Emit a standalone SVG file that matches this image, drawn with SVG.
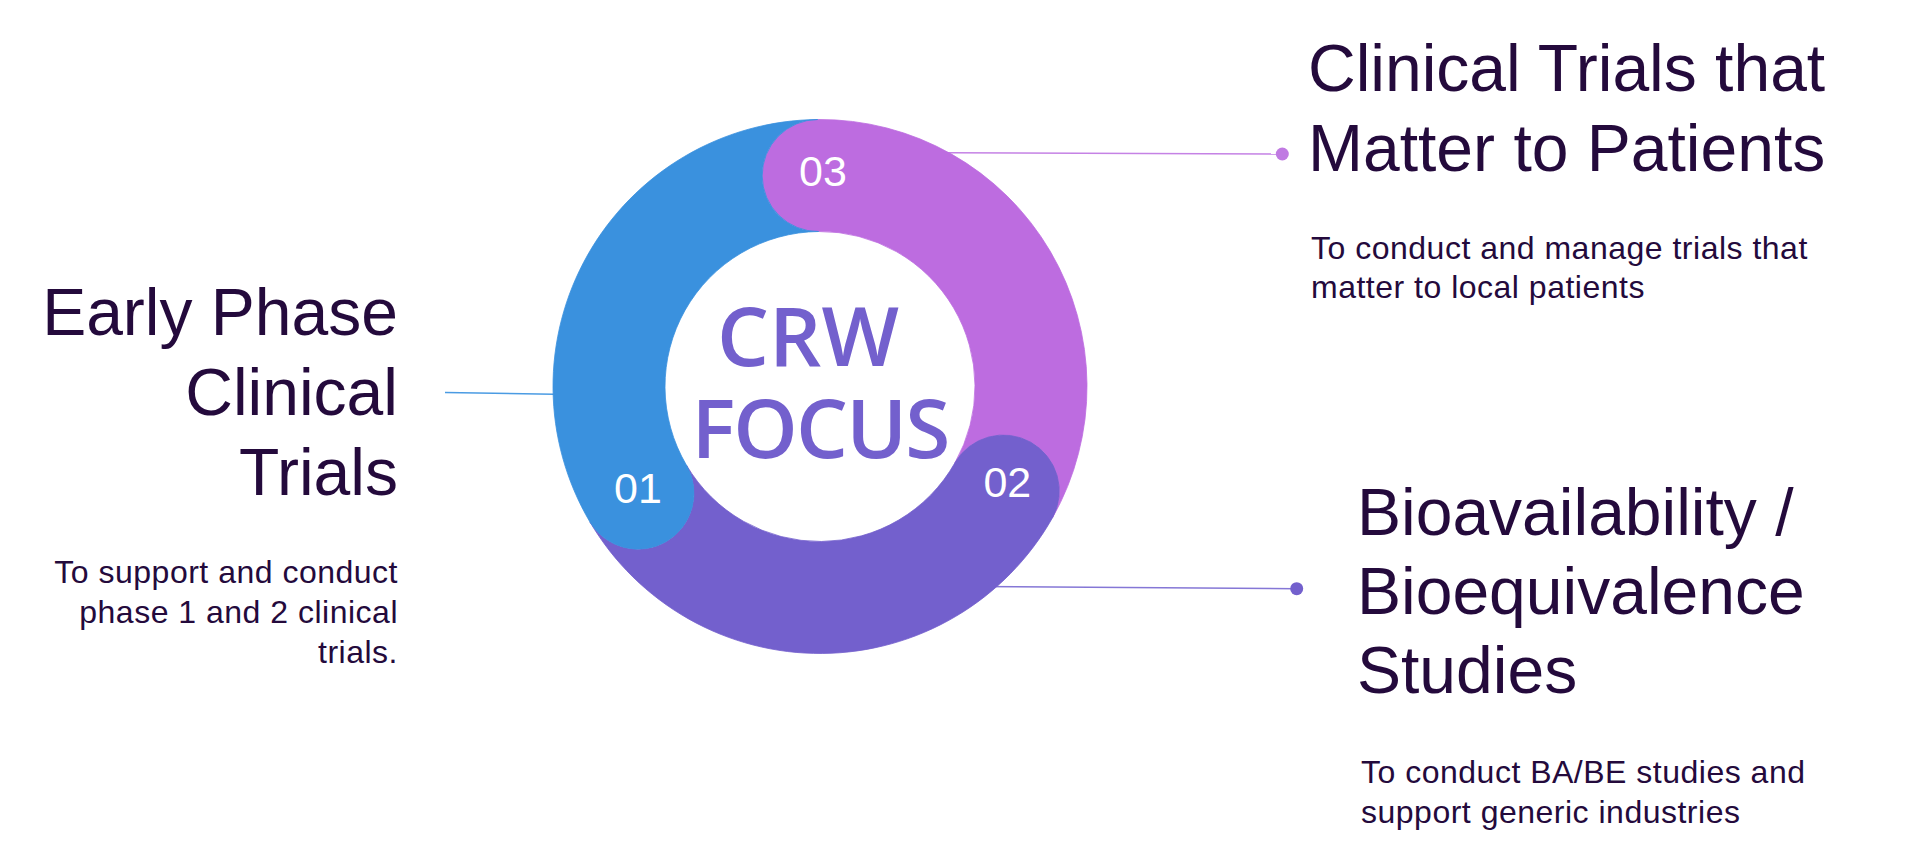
<svg xmlns="http://www.w3.org/2000/svg" width="1920" height="855" viewBox="0 0 1920 855">
<style>
.title{font-family:"Liberation Sans",Arial,sans-serif;font-size:66px;fill:#240a3c}
.desc{font-family:"Liberation Sans",Arial,sans-serif;font-size:32px;letter-spacing:0.5px;fill:#240a3c}
.num{font-family:"Liberation Sans",Arial,sans-serif;font-size:43px;fill:#ffffff;text-anchor:middle}
.center{font-family:"Open Sans","Noto Sans",sans-serif;font-weight:600;font-size:82px;fill:#7360cd;text-anchor:middle}
.end{text-anchor:end}
.conn{fill:none;stroke-width:1.6}
</style>
<rect width="1920" height="855" fill="#ffffff"/>
<g id="connectors">
  <line class="conn" x1="445" y1="392.5" x2="600" y2="395" stroke="#4a9be3"/>
  <line class="conn" x1="880" y1="152.5" x2="1282" y2="154" stroke="#c582e5"/>
  <circle cx="1282.3" cy="154" r="6.5" fill="#c07ae2"/>
  <line class="conn" x1="970" y1="586.5" x2="1296" y2="588.7" stroke="#8577d6"/>
  <circle cx="1296.7" cy="588.7" r="6.5" fill="#7360cd"/>
</g>
<g id="node-03">
  <path d="M 817.67 119.51 A 267 267 0 0 1 1052.38 517.98 A 56 56 0 0 0 954.91 462.83 A 155 155 0 0 0 818.65 231.51 A 56 56 0 0 1 817.67 119.51 Z" fill="#bd6ce0" stroke="#bd6ce0" stroke-width="0.8"/>
  <text class="num" x="823" y="186">03</text>
  <text class="title" x="1308" y="91">Clinical Trials that</text>
  <text class="title" x="1308" y="171">Matter to Patients</text>
  <text class="desc" x="1311" y="259.3">To conduct and manage trials that</text>
  <text class="desc" x="1311" y="298.3">matter to local patients</text>
</g>
<g id="node-02">
  <path d="M 1052.38 517.98 A 267 267 0 0 1 589.95 522.01 A 56 56 0 0 0 686.45 465.17 A 155 155 0 0 0 954.91 462.83 A 56 56 0 0 1 1052.38 517.98 Z" fill="#7360cd" stroke="#7360cd" stroke-width="0.8"/>
  <text class="num" x="1007.3" y="496.6">02</text>
  <text class="title" x="1357" y="535">Bioavailability /</text>
  <text class="title" x="1357" y="614.3">Bioequivalence</text>
  <text class="title" x="1357" y="693.3">Studies</text>
  <text class="desc" x="1361" y="783.3">To conduct BA/BE studies and</text>
  <text class="desc" x="1361" y="823.3">support generic industries</text>
</g>
<g id="node-01">
  <path d="M 589.95 522.01 A 267 267 0 0 1 817.67 119.51 A 56 56 0 0 0 818.65 231.51 A 155 155 0 0 0 686.45 465.17 A 56 56 0 0 1 589.95 522.01 Z" fill="#3a91de" stroke="#3a91de" stroke-width="0.8"/>
  <text class="num" x="638" y="502.5">01</text>
  <text class="title end" x="398" y="335">Early Phase</text>
  <text class="title end" x="398" y="414.5">Clinical</text>
  <text class="title end" x="398" y="494.5">Trials</text>
  <text class="desc end" x="398" y="583.3">To support and conduct</text>
  <text class="desc end" x="398" y="623.3">phase 1 and 2 clinical</text>
  <text class="desc end" x="398" y="662.7">trials.</text>
</g>
<g id="node-center">
  <text class="center" x="808" y="365.6">CRW</text>
  <text class="center" x="820" y="458" letter-spacing="-1.8">FOCUS</text>
</g>
</svg>
